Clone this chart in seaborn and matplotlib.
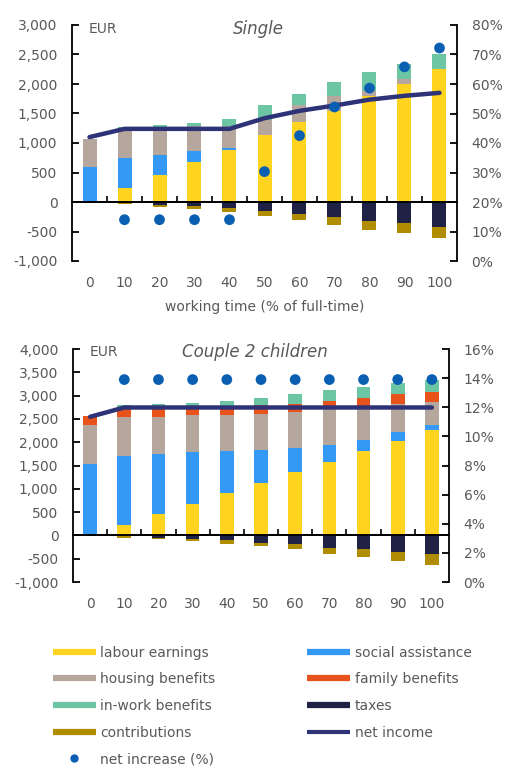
import numpy as np
import pandas as pd
import matplotlib.pyplot as plt
import seaborn as sns
from matplotlib.lines import Line2D
from matplotlib.ticker import FuncFormatter

sns.set_style('white')
plt.rcParams['font.family'] = ['DejaVu Sans']

# working time (% of full-time)
hours = ['0', '10', '20', '30', '40', '50', '60', '70', '80', '90', '100']

# Single (EUR)
single_labour = [0, 230, 450, 670, 885, 1130, 1355, 1550, 1790, 2000, 2255]
single_social = [585, 520, 350, 190, 30, 0, 0, 0, 0, 0, 0]
single_housing = [490, 495, 460, 420, 370, 265, 295, 245, 85, 85, 0]
single_family = [0, 0, 0, 0, 0, 0, 0, 0, 0, 0, 0]
single_inwork = [0, 30, 50, 55, 115, 255, 185, 240, 320, 255, 245]
single_taxes = [0, 0, -45, -75, -100, -145, -205, -260, -315, -350, -425]
single_contrib = [0, -35, -45, -45, -70, -85, -105, -130, -155, -175, -185]
single_net = [1100, 1240, 1240, 1240, 1240, 1420, 1545, 1635, 1735, 1800, 1850]
single_increase = [np.nan, 14, 14, 14, 14, 30.3, 42.5, 52.2, 58.6, 65.8, 72.2]

# Couple 2 children (EUR)
couple_labour = [0, 215, 465, 680, 920, 1125, 1360, 1565, 1805, 2020, 2260]
couple_social = [1540, 1490, 1275, 1100, 895, 715, 525, 385, 250, 200, 105]
couple_housing = [825, 840, 805, 800, 765, 775, 765, 825, 725, 595, 505]
couple_family = [200, 215, 215, 200, 200, 180, 160, 115, 170, 210, 215]
couple_inwork = [0, 30, 55, 70, 110, 155, 215, 230, 240, 235, 245]
couple_taxes = [0, 0, -50, -85, -95, -160, -195, -265, -300, -365, -395]
couple_contrib = [0, -50, -35, -35, -100, -70, -105, -135, -165, -175, -245]
couple_net = [2545, 2745, 2745, 2745, 2745, 2745, 2745, 2745, 2745, 2745, 2745]
couple_increase = [np.nan, 13.9, 13.9, 13.9, 13.9, 13.9, 13.9, 13.9, 13.9, 13.9, 13.9]

colors = {
    'labour': '#ffd420',
    'social': '#3399f5',
    'housing': '#b5a69e',
    'family': '#e8531c',
    'inwork': '#6cc6a4',
    'taxes': '#1f2145',
    'contrib': '#b08c00',
    'net': '#2e3276',
    'increase': '#0b5fb2',
}
labels = {
    'labour': 'labour earnings',
    'social': 'social assistance',
    'housing': 'housing benefits',
    'family': 'family benefits',
    'inwork': 'in-work benefits',
    'taxes': 'taxes',
    'contrib': 'contributions',
    'net': 'net income',
    'increase': 'net increase (%)',
}
grey = '#595959'


def draw_panel(ax, df, title, ylim, yticks, pct_lim, pct_ticks):
    # positive parts stacked upwards
    base = np.zeros(len(df))
    for col in ['labour', 'social', 'housing', 'family', 'inwork']:
        sns.barplot(x='hours', y=col, data=df, bottom=base, color=colors[col],
                    width=0.4, saturation=1, errorbar=None, linewidth=0, ax=ax)
        base = base + df[col].to_numpy()
    # negative parts stacked downwards
    sns.barplot(x='hours', y='taxes', data=df, color=colors['taxes'],
                width=0.4, saturation=1, errorbar=None, linewidth=0, ax=ax)
    sns.barplot(x='hours', y='contrib', data=df, bottom=df['taxes'].to_numpy(),
                color=colors['contrib'], width=0.4, saturation=1, errorbar=None,
                linewidth=0, ax=ax)
    sns.lineplot(x=np.arange(len(df)), y=df['net'].to_numpy(), color=colors['net'],
                 lw=3.2, ax=ax, zorder=6)

    ax.set_ylim(ylim)
    ax.set_yticks(yticks)
    ax.yaxis.set_major_formatter(FuncFormatter(lambda v, p: f'{v:,.0f}'))
    ax.set_ylabel('')
    ax.set_xlabel('')
    for s in ['top', 'bottom', 'right']:
        ax.spines[s].set_visible(False)
    ax.spines['left'].set_linewidth(1.3)
    ax.spines['left'].set_color('black')
    ax.tick_params(axis='y', direction='in', length=5, width=1.3, color='black',
                   labelsize=10, labelcolor=grey, pad=10.5, left=True)
    ax.tick_params(axis='x', length=0, labelsize=10, labelcolor=grey, pad=11)

    # zero line with small ticks between the bars
    ax.axhline(0, color='black', lw=1.3, zorder=5)
    zero = ax.secondary_xaxis((0 - ylim[0]) / (ylim[1] - ylim[0]))
    zero.set_ticks(np.arange(0.5, len(df) - 1, 1))
    zero.tick_params(direction='in', length=4, width=1.2, color='black',
                     labelbottom=False, labeltop=False)
    zero.spines['bottom'].set_linewidth(1.3)
    zero.spines['bottom'].set_color('black')
    zero.set_zorder(5)

    ax2 = ax.twinx()
    sns.scatterplot(x=np.arange(len(df)), y=df['increase'].to_numpy(), s=60,
                    color=colors['increase'], edgecolor='none', ax=ax2, zorder=5)
    ax2.set_ylim(pct_lim)
    ax2.set_yticks(pct_ticks)
    ax2.yaxis.set_major_formatter(FuncFormatter(lambda v, p: f'{v:.0f}%'))
    for s in ['top', 'bottom', 'left']:
        ax2.spines[s].set_visible(False)
    ax2.spines['right'].set_linewidth(1.3)
    ax2.spines['right'].set_color('black')
    ax2.tick_params(axis='y', direction='in', length=5, width=1.3, color='black',
                    labelsize=10, labelcolor=grey, pad=10.5, right=True)
    ax2.set_ylabel('')
    ax.set_xlim(-0.5, len(df) - 0.5)

    ax.text(0.043, 0.985, 'EUR', transform=ax.transAxes, ha='left', va='center',
            fontsize=10, color=grey)
    ax.text(0.485, 0.985, title, transform=ax.transAxes, ha='center', va='center',
            fontsize=12, style='italic', color=grey)
    return ax2


single_df = pd.DataFrame({'hours': hours, 'labour': single_labour, 'social': single_social,
                          'housing': single_housing, 'family': single_family,
                          'inwork': single_inwork, 'taxes': single_taxes,
                          'contrib': single_contrib, 'net': single_net,
                          'increase': single_increase})
couple_df = pd.DataFrame({'hours': hours, 'labour': couple_labour, 'social': couple_social,
                          'housing': couple_housing, 'family': couple_family,
                          'inwork': couple_inwork, 'taxes': couple_taxes,
                          'contrib': couple_contrib, 'net': couple_net,
                          'increase': couple_increase})

fig = plt.figure(figsize=(5.07, 7.67), dpi=100)
ax_top = fig.add_axes([72 / 507, 1 - 261 / 767, 385 / 507, 236 / 767])
ax_bot = fig.add_axes([73 / 507, 1 - 582 / 767, 376 / 507, 233 / 767])

draw_panel(ax_top, single_df, 'Single', (-1000, 3000), np.arange(-1000, 3001, 500),
           (0, 80), np.arange(0, 81, 10))
ax_top.set_xlabel('working time (% of full-time)', fontsize=10, color=grey, labelpad=7)

draw_panel(ax_bot, couple_df, 'Couple 2 children', (-1000, 4000), np.arange(-1000, 4001, 500),
           (0, 16), np.arange(0, 17, 2))

# legend, filled column by column
order = ['labour', 'housing', 'inwork', 'contrib', 'increase',
         'social', 'family', 'taxes', 'net']
handles = []
for key in order:
    if key == 'increase':
        handles.append(Line2D([], [], color=colors[key], marker='o', markersize=5,
                              linestyle='none'))
    elif key == 'net':
        handles.append(Line2D([], [], color=colors[key], lw=3, solid_capstyle='butt'))
    else:
        handles.append(Line2D([], [], color=colors[key], lw=4.5, solid_capstyle='butt'))
fig.legend(handles, [labels[k] for k in order], ncol=2, loc='upper left',
           bbox_to_anchor=(0.093, 0.1654), frameon=False, fontsize=10,
           labelcolor=grey, handlelength=3.1, handletextpad=0.3, borderaxespad=0,
           labelspacing=0.91, columnspacing=6.65)

fig.savefig('out.png', dpi=100)
